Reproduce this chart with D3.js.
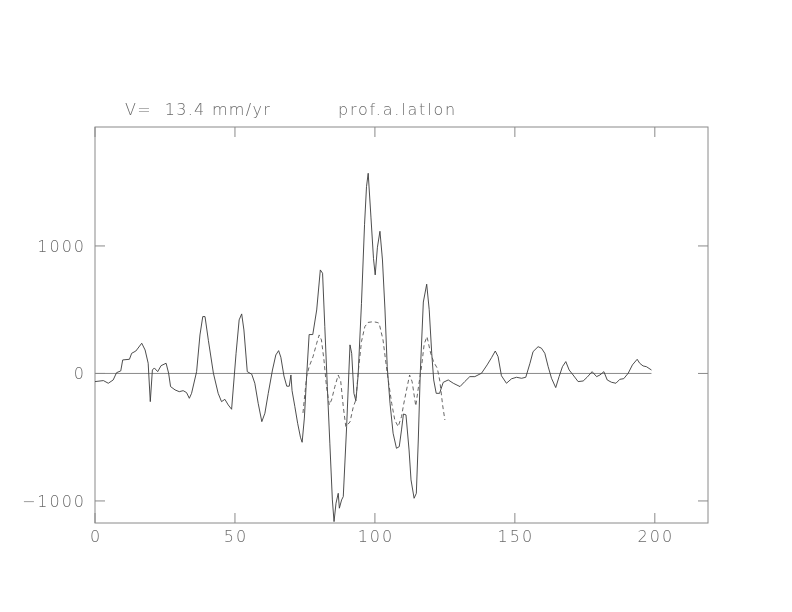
<!DOCTYPE html>
<html>
<head>
<meta charset="utf-8">
<script src="https://cdn.jsdelivr.net/npm/d3@7"></script>
<style>
  body { margin: 0; background: #fff; overflow: hidden; }
  svg { display: block; will-change: transform; }
  text { font-family: "DejaVu Sans", sans-serif; font-weight: 200; fill: #6a6a6a; }
</style>
</head>
<body>
<div id="chart"></div>
<script>
// profile data
const solidX = [0, 3, 4.75, 6.5, 7.7, 9.2, 9.9, 12.3, 13.1, 14.6, 16.7, 17.9, 19, 19.75, 20.5, 21.2, 22.4, 23.6, 25.4, 26.3,
  27, 28.6, 30.1, 31.5, 32.7, 33.7, 34.5, 36.3, 37.5, 38.5, 39.3, 40.5, 42.3, 44, 45.2, 46.4, 47.6, 48.8, 50.4, 51.5,
  52.4, 53.2, 54.4, 56, 57.1, 58.3, 59.6, 60.7, 61.9, 63.4, 64.6, 65.6, 66.4, 67.5, 68.5, 69.4, 70, 70.4, 71.4, 72.4,
  73.4, 74, 74.8, 75.6, 76.5, 77.8, 79.2, 80.5, 81.3, 82.1, 83, 83.9, 84.8, 85.4, 86.1, 86.9, 87.3, 88.1, 88.7, 89.9,
  91.1, 91.7, 92.5, 93.2, 94, 95.2, 96.3, 97, 97.6, 98.6, 99.5, 100.1, 100.9, 101.8, 102.7, 103.6, 104.4, 105.4, 106.5, 107.7,
  108.7, 109.5, 110.2, 111.1, 112.2, 112.9, 114, 114.8, 115.5, 116.2, 117.3, 118.5, 119.4, 120.3, 121, 121.9, 123.1, 124.4, 126.2, 128,
  130.4, 132.1, 133.9, 135.7, 138.1, 140.1, 141.7, 143, 144, 145.2, 147, 148.8, 150.6, 152.4, 153.9, 155.4, 156.5, 158.3, 159.5, 160.7,
  161.9, 163.1, 164.6, 165.8, 167, 168.2, 169.4, 170.8, 172.6, 174.4, 175.8, 177.6, 179.2, 180.4, 181.8, 183, 184.5, 186.1, 187.5, 188.9,
  190.5, 192, 193.7, 194.6, 195.8, 197, 198.8];
const solidY = [-64, -56, -77, -51, 6, 20, 106, 111, 158, 176, 237, 184, 80, -221, 27, 43, 14, 61, 80, 2,
  -103, -129, -143, -135, -150, -195, -156, 14, 302, 446, 446, 260, 2, -156, -221, -203, -247, -281, 158, 420,
  467, 341, 14, -6, -77, -234, -378, -312, -156, 27, 145, 179, 127, -20, -100, -100, -12, -135, -260, -391,
  -500, -540, -350, -25, 305, 305, 498, 812, 786, 367, -103, -547, -992, -1162, -1018, -940, -1057, -992, -966, -417,
  224, 158, -156, -215, -15, 550, 1170, 1465, 1570, 1220, 900, 773, 990, 1115, 890, 498, 53, -234, -469, -587,
  -574, -443, -318, -325, -600, -835, -979, -940, -522, 0, 560, 700, 500, 158, -51, -156, -156, -70, -51, -77,
  -103, -64, -25, -25, 2, 67, 125, 176, 132, -18, -77, -42, -30, -38, -30, 80, 171, 210, 198, 158,
  53, -38, -111, -25, 53, 93, 27, -12, -64, -59, -30, 14, -25, -12, 14, -51, -69, -77, -46, -41,
  2, 67, 111, 80, 59, 53, 27];

const dashX = [74.3, 75.6, 76.5, 77.9, 79.2, 80.1, 80.9, 81.8, 82.7, 83.7, 84.5, 85.7, 86.9, 87.8, 88.7, 89.6, 91.1, 92.3, 93.2, 94,
  95.2, 96.4, 97.5, 99.4, 100.8, 101.5, 102.9, 104.4, 106, 107.1, 108.3, 109.5, 110.2, 111.2, 112.4, 113.3, 114.6, 115.6, 116.7, 117.6,
  118.6, 119.9, 121, 122.3, 123.2, 124.2, 125];
const dashY = [-310, -25, 53, 132, 237, 302, 263, 106, -103, -247, -208, -103, -12, -64, -260, -417, -380, -260, -208, 2,
  250, 367, 400, 406, 400, 394, 263, 2, -234, -365, -417, -339, -250, -140, -12, -65, -255, -100, 60, 230,
  289, 160, 90, 40, -60, -250, -365];

const xTicks = [0, 50, 100, 150, 200];
const yTicks = [-1000, 0, 1000];
const velocityLabel = "V=  13.4 mm/yr";
const profileLabel = "prof.a.latlon";

const width = 792, height = 612;
const margin = { left: 95, right: 84, top: 127, bottom: 89 };
const innerWidth = width - margin.left - margin.right;
const innerHeight = height - margin.top - margin.bottom;

const svg = d3.select("#chart").append("svg")
  .attr("width", width)
  .attr("height", height);

const inner = svg.append("g")
  .attr("transform", `translate(${margin.left}, ${margin.top})`);

const xScale = d3.scaleLinear().domain([0, 219]).range([0, innerWidth]);
const yScale = d3.scaleLinear().domain([-1173, 1933]).range([innerHeight, 0]);

// frame
inner.append("rect")
  .attr("width", innerWidth)
  .attr("height", innerHeight)
  .attr("fill", "none")
  .attr("stroke", "#8a8a8a")
  .attr("stroke-width", 1);

// inward ticks on all four sides
const tickLen = 10;
inner.selectAll(".xt-bottom").data(xTicks).join("line")
  .attr("class", "xt-bottom")
  .attr("x1", d => xScale(d)).attr("x2", d => xScale(d))
  .attr("y1", innerHeight).attr("y2", innerHeight - tickLen)
  .attr("stroke", "#8a8a8a");
inner.selectAll(".xt-top").data(xTicks).join("line")
  .attr("class", "xt-top")
  .attr("x1", d => xScale(d)).attr("x2", d => xScale(d))
  .attr("y1", 0).attr("y2", tickLen)
  .attr("stroke", "#8a8a8a");
inner.selectAll(".yt-left").data(yTicks).join("line")
  .attr("class", "yt-left")
  .attr("x1", 0).attr("x2", tickLen)
  .attr("y1", d => yScale(d)).attr("y2", d => yScale(d))
  .attr("stroke", "#8a8a8a");
inner.selectAll(".yt-right").data(yTicks).join("line")
  .attr("class", "yt-right")
  .attr("x1", innerWidth).attr("x2", innerWidth - tickLen)
  .attr("y1", d => yScale(d)).attr("y2", d => yScale(d))
  .attr("stroke", "#8a8a8a");

// tick labels (wide, thin lettering like the plotter font)
inner.selectAll(".xl").data(xTicks).join("text")
  .attr("class", "xl")
  .attr("x", d => xScale(d) + 1)
  .attr("y", innerHeight + 19)
  .attr("text-anchor", "middle")
  .attr("font-size", "16px")
  .attr("letter-spacing", "2px")
  .text(d => d);
inner.selectAll(".yl").data(yTicks).join("text")
  .attr("class", "yl")
  .attr("x", -9)
  .attr("y", d => yScale(d) + 6)
  .attr("text-anchor", "end")
  .attr("font-size", "16px")
  .attr("letter-spacing", "2px")
  .text(d => d < 0 ? "\u2212" + Math.abs(d) : d);

// zero line along the profile
inner.append("line")
  .attr("x1", xScale(0)).attr("x2", xScale(d3.max(solidX)))
  .attr("y1", yScale(0)).attr("y2", yScale(0))
  .attr("stroke", "#8a8a8a");

const line = d3.line()
  .x(d => xScale(d[0]))
  .y(d => yScale(d[1]));

inner.append("path")
  .datum(d3.zip(solidX, solidY))
  .attr("fill", "none")
  .attr("stroke", "#3a3a3a")
  .attr("stroke-width", 0.9)
  .attr("d", line);

inner.append("path")
  .datum(d3.zip(dashX, dashY))
  .attr("fill", "none")
  .attr("stroke", "#555")
  .attr("stroke-width", 0.9)
  .attr("stroke-dasharray", "4,3")
  .attr("d", line);

// header labels
svg.append("text")
  .attr("x", 125).attr("y", 115)
  .attr("font-size", "16px")
  .attr("letter-spacing", "1.3px")
  .style("white-space", "pre")
  .text(velocityLabel);
svg.append("text")
  .attr("x", 338).attr("y", 115)
  .attr("font-size", "16px")
  .attr("letter-spacing", "1.8px")
  .text(profileLabel);
</script>
</body>
</html>
